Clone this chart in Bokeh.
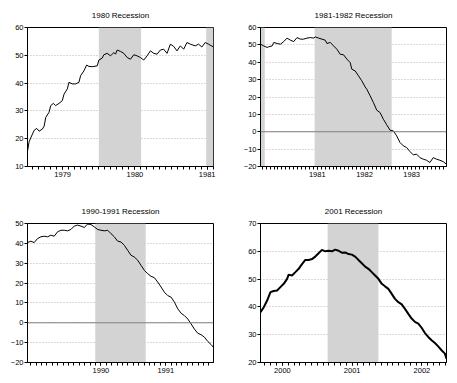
import numpy as np
from bokeh.plotting import figure
from bokeh.layouts import gridplot
from bokeh.models import Range1d, FixedTicker, Span, CustomJSTickFormatter
from bokeh.embed import file_html
from bokeh.resources import INLINE

FONT = "Liberation Sans"

# ---------------- data ----------------
r1980_title = "1980 Recession"
r1980_x = [1979.013, 1979.036, 1979.082, 1979.105, 1979.141, 1979.174, 1979.220, 1979.243, 1979.266,
           1979.311, 1979.334, 1979.371, 1979.403, 1979.449, 1979.495, 1979.518, 1979.564, 1979.587,
           1979.633, 1979.679, 1979.725, 1979.748, 1979.794, 1979.831, 1979.863, 1979.909, 1979.978,
           1980.001, 1980.047, 1980.070, 1980.116, 1980.162, 1980.208, 1980.231, 1980.254, 1980.300,
           1980.346, 1980.392, 1980.438, 1980.484, 1980.530, 1980.576, 1980.622, 1980.668, 1980.714,
           1980.760, 1980.806, 1980.852, 1980.898, 1980.944, 1980.990, 1981.036, 1981.082, 1981.128,
           1981.174, 1981.220, 1981.266, 1981.334, 1981.380, 1981.426, 1981.472, 1981.518, 1981.587]
r1980_y = [15.5, 19.0, 21.7, 23.0, 23.7, 22.7, 23.5, 24.5, 27.7,
           29.5, 31.9, 32.7, 31.9, 32.7, 33.7, 36.0, 37.9, 40.3,
           39.7, 39.7, 40.3, 42.7, 44.4, 46.5, 46.0, 45.9, 46.2,
           48.3, 49.0, 50.2, 50.7, 49.8, 51.0, 50.4, 51.9, 51.4,
           50.7, 49.2, 48.6, 50.2, 49.8, 49.2, 48.3, 49.8, 51.6,
           50.7, 50.4, 51.9, 52.2, 50.7, 54.0, 53.2, 51.6, 53.4,
           52.2, 54.6, 54.0, 53.4, 54.0, 53.0, 54.6, 54.0, 53.0]
r1980_bands = [(1980.00, 1980.585), (1981.486, 1981.587)]
r1980_xlim = (1979.013, 1981.587)
r1980_ylim = (10, 60)
r1980_yticks = [10, 20, 30, 40, 50, 60]
r1980_years = [1979, 1980, 1981]

r1981_title = "1981-1982 Recession"
r1981_x = [1980.296, 1980.366, 1980.437, 1980.472, 1980.542, 1980.577, 1980.648, 1980.718, 1980.789,
           1980.859, 1980.930, 1981.000, 1981.070, 1981.141, 1981.211, 1981.282, 1981.352, 1981.423,
           1981.458, 1981.528, 1981.599, 1981.669, 1981.704, 1981.775, 1981.845, 1981.915, 1981.986,
           1982.056, 1982.127, 1982.197, 1982.232, 1982.303, 1982.373, 1982.444, 1982.514, 1982.549,
           1982.620, 1982.690, 1982.761, 1982.831, 1982.901, 1982.972, 1983.042, 1983.113, 1983.183,
           1983.254, 1983.324, 1983.394, 1983.465, 1983.535, 1983.606, 1983.676, 1983.746, 1983.817,
           1983.887, 1983.958, 1984.028, 1984.099, 1984.169, 1984.239]
r1981_y = [50.4, 49.4, 48.5, 48.9, 49.4, 51.4, 50.8, 50.4, 51.9,
           53.9, 52.7, 51.9, 54.2, 53.3, 53.3, 53.9, 54.2, 53.9,
           54.6, 53.9, 53.3, 52.7, 50.8, 51.4, 49.4, 47.5, 44.6,
           44.3, 41.8, 39.8, 36.0, 35.0, 32.2, 29.3, 25.8, 24.5,
           20.7, 16.8, 12.4, 11.0, 7.2, 4.0, 0.9, 0.5, -2.4,
           -6.2, -8.1, -9.1, -11.4, -13.3, -12.9, -14.9, -15.8, -16.4,
           -17.7, -14.9, -15.8, -16.4, -17.2, -18.7]
r1981_bands = [(1980.296, 1980.387), (1981.444, 1983.077)]
r1981_xlim = (1980.296, 1984.239)
r1981_ylim = (-20, 60)
r1981_yticks = [-20, -10, 0, 10, 20, 30, 40, 50, 60]
r1981_years = [1981, 1982, 1983]

r1990_title = "1990-1991 Recession"
r1990_x = [1989.366, 1989.418, 1989.469, 1989.521, 1989.572, 1989.624, 1989.675, 1989.727, 1989.778,
           1989.830, 1989.881, 1989.933, 1989.985, 1990.036, 1990.088, 1990.139, 1990.191, 1990.242,
           1990.268, 1990.294, 1990.345, 1990.397, 1990.448, 1990.500, 1990.552, 1990.603, 1990.655,
           1990.706, 1990.758, 1990.809, 1990.861, 1990.912, 1990.964, 1991.015, 1991.067, 1991.119,
           1991.170, 1991.222, 1991.273, 1991.325, 1991.376, 1991.428, 1991.479, 1991.531, 1991.582,
           1991.634, 1991.686, 1991.737, 1991.789, 1991.840, 1991.892, 1991.943, 1991.995, 1992.046,
           1992.098, 1992.149, 1992.201, 1992.237]
r1990_y = [40.4, 41.1, 40.4, 42.4, 43.3, 43.6, 43.3, 44.1, 43.6,
           45.8, 46.6, 46.6, 46.3, 47.0, 48.7, 49.2, 48.7, 48.0,
           48.8, 49.7, 49.5, 48.3, 47.0, 46.6, 46.3, 46.6, 44.9,
           43.3, 41.1, 40.7, 39.0, 36.5, 34.0, 33.1, 31.5, 28.9,
           26.4, 24.7, 23.4, 22.7, 20.5, 18.0, 15.4, 13.7, 12.9,
           10.4, 7.0, 4.8, 3.6, 1.9, -0.6, -3.2, -5.3, -6.0,
           -7.3, -9.4, -11.0, -12.4]
r1990_bands = [(1990.412, 1991.191)]
r1990_xlim = (1989.366, 1992.237)
r1990_ylim = (-20, 50)
r1990_yticks = [-20, -10, 0, 10, 20, 30, 40, 50]
r1990_years = [1990, 1991]

r2001_title = "2001 Recession"
r2001_x = [2000.186, 2000.233, 2000.281, 2000.329, 2000.376, 2000.424, 2000.471, 2000.519, 2000.567,
           2000.590, 2000.638, 2000.686, 2000.733, 2000.781, 2000.829, 2000.876, 2000.924, 2000.971,
           2001.019, 2001.067, 2001.114, 2001.162, 2001.210, 2001.257, 2001.305, 2001.352, 2001.400,
           2001.448, 2001.495, 2001.543, 2001.590, 2001.638, 2001.686, 2001.733, 2001.781, 2001.829,
           2001.876, 2001.924, 2001.971, 2002.019, 2002.067, 2002.114, 2002.162, 2002.210, 2002.257,
           2002.305, 2002.352, 2002.400, 2002.448, 2002.495, 2002.543, 2002.590, 2002.638, 2002.686,
           2002.733, 2002.781, 2002.829, 2002.852]
r2001_y = [38.1, 39.9, 42.3, 45.3, 45.7, 45.9, 47.1, 48.3, 50.1,
           51.6, 51.3, 52.5, 53.7, 55.4, 56.9, 56.9, 57.2, 58.1,
           59.3, 60.5, 60.0, 60.2, 60.0, 60.6, 60.2, 59.5, 59.6,
           59.0, 58.8, 58.1, 56.9, 55.7, 54.5, 53.7, 52.5, 51.3,
           50.1, 48.3, 47.4, 46.5, 44.7, 42.9, 41.7, 40.9, 39.3,
           37.5, 35.8, 34.6, 34.0, 32.5, 30.6, 29.2, 28.0, 27.0,
           25.8, 24.4, 23.2, 21.4]
r2001_bands = [(2001.148, 2001.876)]
r2001_xlim = (2000.186, 2002.852)
r2001_ylim = (20, 70)
r2001_yticks = [20, 30, 40, 50, 60, 70]
r2001_years = [2000, 2001, 2002]


def make_panel(title, xs, ys, bands, xlim, ylim, yticks, years, lw,
               width, height, left, right, top, bottom):
    p = figure(width=width, height=height, output_backend="svg", toolbar_location=None,
               x_range=Range1d(*xlim), y_range=Range1d(*ylim),
               min_border_left=left, min_border_right=right,
               min_border_top=top, min_border_bottom=bottom)
    p.background_fill_color = "white"
    p.border_fill_color = "white"
    p.outline_line_color = "black"
    p.outline_line_width = 1

    p.title.text = title
    p.title.align = "center"
    p.title.text_font = FONT
    p.title.text_font_size = "8px"
    p.title.text_font_style = "normal"
    p.title.text_color = "black"
    p.title.standoff = 16

    # recession shading
    for (a, b) in bands:
        p.quad(left=[a], right=[b], bottom=[ylim[0]], top=[ylim[1]],
               fill_color="#d3d3d3", line_color=None)

    if ylim[0] < 0 < ylim[1]:
        p.add_layout(Span(location=0, dimension="width", line_color="#808080", line_width=1))

    p.line(xs, ys, line_color="black", line_width=lw)

    # y axis
    yax = p.yaxis[0]
    yax.ticker = FixedTicker(ticks=yticks)
    yax.major_tick_out = 3
    yax.major_tick_in = 0
    yax.minor_tick_line_color = None
    yax.major_label_standoff = 1
    yax.major_label_text_font = FONT
    yax.major_label_text_font_size = "7.5px"
    yax.major_label_text_color = "black"
    yax.axis_line_color = "black"
    p.ygrid.ticker = FixedTicker(ticks=yticks[1:-1])
    p.ygrid.grid_line_color = "#b4b4b4"
    p.ygrid.grid_line_dash = "1 2"
    p.xgrid.grid_line_color = None

    # x axis: year labels at mid-year, monthly minor ticks
    y0, y1 = int(np.floor(xlim[0])), int(np.ceil(xlim[1]))
    months = [y0 + k / 12 for k in range((y1 - y0) * 12 + 1)]
    months = [m for m in months if xlim[0] <= m <= xlim[1]]
    xax = p.xaxis[0]
    xax.ticker = FixedTicker(ticks=[y + 0.5 for y in years], minor_ticks=months)
    xax.major_tick_out = 3
    xax.major_tick_in = 0
    xax.minor_tick_out = 3
    xax.minor_tick_in = 0
    xax.axis_line_color = "black"
    xax.major_label_standoff = 2
    xax.major_label_text_font = FONT
    xax.major_label_text_font_size = "7.5px"
    xax.major_label_text_color = "black"
    xax.formatter = CustomJSTickFormatter(code="return Math.floor(tick).toString();")
    return p


# frames: 186 x 139 px; page body has no margin
p1 = make_panel(r1980_title, r1980_x, r1980_y, r1980_bands, r1980_xlim, r1980_ylim,
                r1980_yticks, r1980_years, 1, 232, 193, 27, 19, 27, 27)
p2 = make_panel(r1981_title, r1981_x, r1981_y, r1981_bands, r1981_xlim, r1981_ylim,
                r1981_yticks, r1981_years, 1, 219, 193, 28, 5, 27, 27)
p3 = make_panel(r1990_title, r1990_x, r1990_y, r1990_bands, r1990_xlim, r1990_ylim,
                r1990_yticks, r1990_years, 1, 232, 187, 27, 19, 30, 18)
p4 = make_panel(r2001_title, r2001_x, r2001_y, r2001_bands, r2001_xlim, r2001_ylim,
                r2001_yticks, r2001_years, 2, 219, 187, 28, 5, 30, 18)

grid = gridplot([[p1, p2], [p3, p4]], toolbar_location=None)

open("out.html", "w").write(file_html(grid, INLINE))
